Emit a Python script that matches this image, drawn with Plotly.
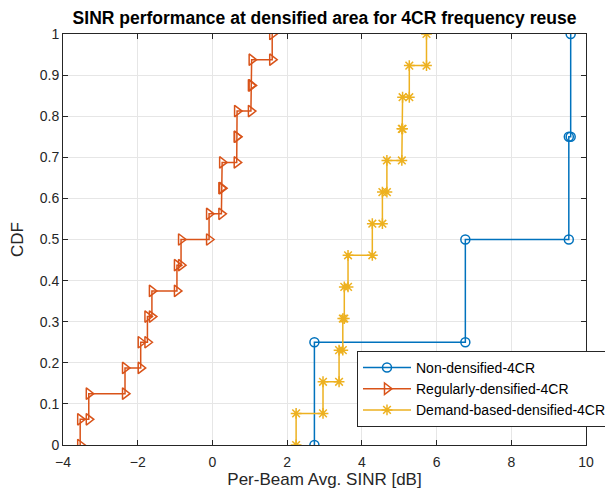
import plotly.graph_objects as go

# Sorted sample values (dB) for each empirical CDF
non_densified = [2.73, 6.77, 9.54, 9.59]
regularly_densified = [-3.54, -3.31, -2.34, -1.92, -1.74, -1.62, -0.95, -0.84,
                       -0.09, 0.24, 0.26, 0.65, 0.66, 1.03, 1.05, 1.60]
demand_based = [2.24, 2.96, 3.39, 3.49, 3.53, 3.63, 4.28, 4.55, 4.67, 5.07,
                5.09, 5.27, 5.73]

series_names = ["Non-densified-4CR", "Regularly-densified-4CR",
                "Demand-based-densified-4CR"]
x_ticks = [-4, -2, 0, 2, 4, 6, 8, 10]
y_ticks = [0, 0.1, 0.2, 0.3, 0.4, 0.5, 0.6, 0.7, 0.8, 0.9, 1]
y_tick_text = ["0", "0.1", "0.2", "0.3", "0.4", "0.5", "0.6", "0.7", "0.8", "0.9", "1"]


def stairs(values):
    n = len(values)
    xs, ys = [], []
    for i, v in enumerate(sorted(values)):
        xs += [v, v]
        ys += [i / n, (i + 1) / n]
    return xs, ys


styles = [
    dict(color="#0072BD", symbol="circle-open", size=9),
    dict(color="#D95319", symbol="triangle-right-open", size=10),
    dict(color="#EDB120", symbol="asterisk-open", size=9),
]

FONT = "Liberation Sans, Arial, sans-serif"

fig = go.Figure()
for name, vals, st in zip(series_names,
                          [non_densified, regularly_densified, demand_based],
                          styles):
    xs, ys = stairs(vals)
    fig.add_trace(go.Scatter(
        x=xs, y=ys, mode="lines+markers", name=name,
        line=dict(color=st["color"], width=1.5),
        marker=dict(symbol=st["symbol"], size=st["size"], color=st["color"],
                    line=dict(color=st["color"], width=1.5)),
    ))

axis_common = dict(
    showgrid=True, gridcolor="#E6E6E6", gridwidth=1,
    zeroline=False, showline=True, linecolor="#262626", linewidth=1,
    mirror="ticks", ticks="inside", ticklen=5, tickcolor="#262626",
    tickfont=dict(family=FONT, size=14, color="#262626"),
)

fig.update_xaxes(range=[-4, 10], tickvals=x_ticks, ticklabelstandoff=4,
                 title=dict(text="Per-Beam Avg. SINR [dB]",
                            font=dict(family=FONT, size=17, color="#262626"),
                            standoff=4),
                 **axis_common)
fig.update_yaxes(range=[0, 1], tickvals=y_ticks, ticktext=y_tick_text,
                 title=dict(text="CDF",
                            font=dict(family=FONT, size=17, color="#262626"),
                            standoff=11),
                 **axis_common)

# page body has an 8px margin, so the figure is sized/placed to compensate
fig.update_layout(
    width=605, height=487,
    margin=dict(l=55, r=27, t=26, b=50, autoexpand=False),
    paper_bgcolor="white", plot_bgcolor="white",
    title=dict(text="<b>SINR performance at densified area for 4CR frequency reuse</b>",
               x=(55 + 578) / 2 / 605, xanchor="center", y=1 - 10 / 487, yanchor="middle",
               font=dict(family=FONT, size=17.5, color="black")),
    legend=dict(x=1.0497, y=0.044, xanchor="right", yanchor="bottom",
                bgcolor="white", bordercolor="#262626", borderwidth=1,
                font=dict(family=FONT, size=14, color="black"),
                tracegroupgap=0, itemwidth=48),
    showlegend=True,
)

fig.write_html("out.html")
